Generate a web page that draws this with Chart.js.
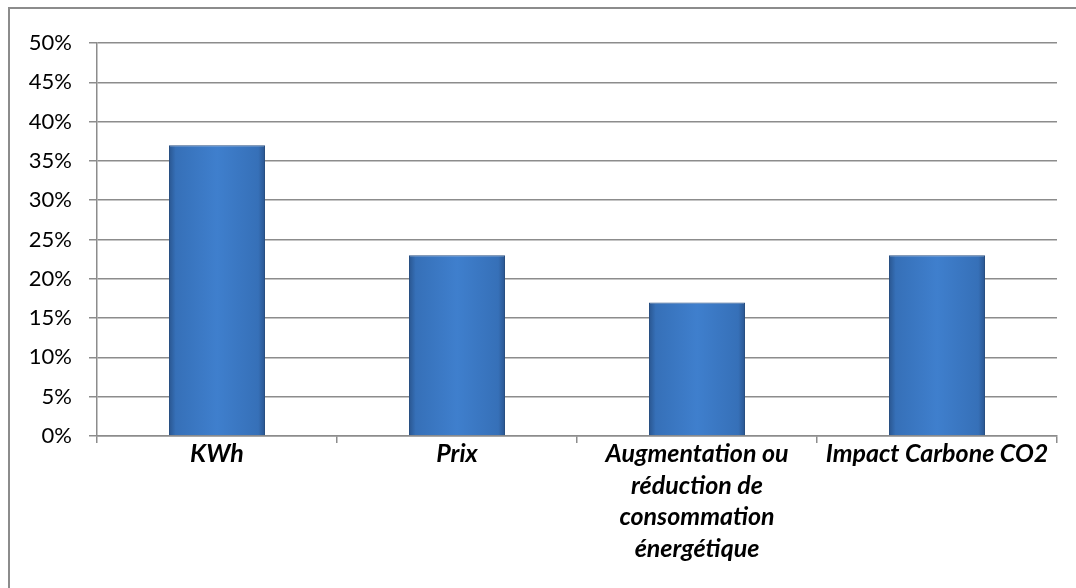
<!DOCTYPE html>
<html>
<head>
<meta charset="utf-8">
<script src="https://cdn.jsdelivr.net/npm/chart.js@4/dist/chart.umd.min.js"></script>
<style>
  html,body{margin:0;padding:0;background:#fff;overflow:hidden;}
  #wrap{position:relative;width:1076px;height:588px;}
  #frame{position:absolute;left:8px;top:7px;width:1100px;height:620px;border:2px solid #8c8c8c;box-sizing:border-box;}
  canvas{position:absolute;left:0;top:0;}
</style>
</head>
<body>
<div id="wrap">
  <div id="frame"></div>
  <canvas id="chart" width="1076" height="588"></canvas>
</div>
<script>
const categories=[
  'KWh',
  'Prix',
  ['Augmentation ou','réduction de','consommation','énergétique'],
  'Impact Carbone CO2'
];
const values=[37,23,17,23];
const yTicks=[0,5,10,15,20,25,30,35,40,45,50];

const gridColor='#8c8c8c';

function barFill(ctx){
  const chart=ctx.chart;
  const xs=chart.scales.x;
  if(!chart.chartArea||!xs) return '#3f7cc8';
  const cx=xs.getPixelForValue(ctx.dataIndex);
  const w=(chart.chartArea.right-chart.chartArea.left)/categories.length*0.4;
  const g=chart.ctx.createLinearGradient(cx-w/2,0,cx+w/2,0);
  g.addColorStop(0,'#2a5690');
  g.addColorStop(0.07,'#3670b8');
  g.addColorStop(0.5,'#3f7fcd');
  g.addColorStop(0.93,'#3670b8');
  g.addColorStop(1,'#2a5690');
  return g;
}

new Chart(document.getElementById('chart'),{
  type:'bar',
  data:{
    labels:categories,
    datasets:[{
      data:values,
      backgroundColor:barFill,
      borderColor:'#284f82',
      borderWidth:1,
      categoryPercentage:0.4,
      barPercentage:1
    }]
  },
  options:{
    responsive:false,
    animation:false,
    layout:{padding:{left:0,top:43,right:19,bottom:0}},
    plugins:{legend:{display:false},tooltip:{enabled:false}},
    scales:{
      y:{
        min:0,max:50,
        afterBuildTicks:s=>{s.ticks=yTicks.map(v=>({value:v}));},
        afterFit:s=>{s.width=97;},
        ticks:{
          color:'#000',
          padding:17,
          font:{family:'Lato',size:22},
          callback:v=>v+'%'
        },
        grid:{color:gridColor,lineWidth:1.5,tickLength:8},
        border:{color:gridColor,width:1.5}
      },
      x:{
        afterFit:s=>{s.height=152;},
        ticks:{
          color:'#000',
          padding:-5,
          maxRotation:0,
          autoSkip:false,
          font:{family:'Lato',size:25,style:'italic',weight:'bold',lineHeight:1.27}
        },
        grid:{color:gridColor,lineWidth:1.5,drawOnChartArea:false,tickLength:7,offset:true},
        border:{color:gridColor,width:1.5}
      }
    }
  }
});
</script>
</body>
</html>
